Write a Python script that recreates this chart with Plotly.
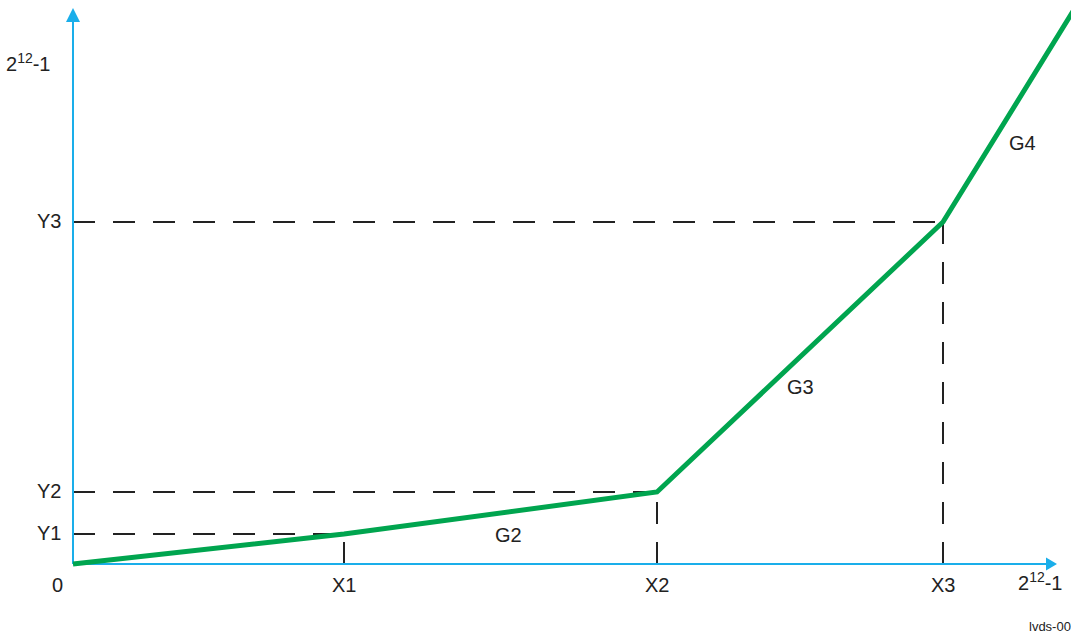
import plotly.graph_objects as go

# Data (origin-relative units, 1 unit ~ 1 px)
seg_x = [0, 271, 584, 870, 1007]
seg_y = [0, 30, 72, 342, 564]
x_ticks = ["X1", "X2", "X3"]
x_vals = [271, 584, 870]
y_ticks = ["Y1", "Y2", "Y3"]
y_vals = [30, 72, 342]
gain_labels = ["G2", "G3", "G4"]
gain_pos_x = [435, 727, 949]
gain_pos_y = [29, 177, 421]
full_scale = "2<sup>12</sup>-1"

BLUE = "#1aaeea"
GREEN = "#00a54f"
DARK = "#222222"
FONT = "Liberation Sans, Arial, sans-serif"

fig = go.Figure()

# dashed guide lines
for xv, yv in zip(x_vals, y_vals):
    fig.add_trace(go.Scatter(x=[0, xv], y=[yv, yv], mode="lines",
                             line=dict(color=DARK, width=2, dash="22px,18px"),
                             hoverinfo="skip", showlegend=False))
    fig.add_trace(go.Scatter(x=[xv, xv], y=[0, yv], mode="lines",
                             line=dict(color=DARK, width=2, dash="22px,18px"),
                             hoverinfo="skip", showlegend=False))

# axes
x_end = 984
y_end = 556
fig.add_trace(go.Scatter(x=[0, x_end - 6], y=[0, 0], mode="lines",
                         line=dict(color=BLUE, width=2), hoverinfo="skip", showlegend=False))
fig.add_trace(go.Scatter(x=[0, 0], y=[0, y_end - 8], mode="lines",
                         line=dict(color=BLUE, width=2), hoverinfo="skip", showlegend=False))
# arrow heads
fig.add_trace(go.Scatter(x=[x_end - 11, x_end, x_end - 11, x_end - 11], y=[6.5, 0, -6.5, 6.5],
                         mode="lines", fill="toself", fillcolor=BLUE,
                         line=dict(color=BLUE, width=0), hoverinfo="skip", showlegend=False))
fig.add_trace(go.Scatter(x=[-7, 0, 7, -7], y=[y_end - 14, y_end, y_end - 14, y_end - 14],
                         mode="lines", fill="toself", fillcolor=BLUE,
                         line=dict(color=BLUE, width=0), hoverinfo="skip", showlegend=False))

# transfer curve
fig.add_trace(go.Scatter(x=seg_x, y=seg_y, mode="lines",
                         line=dict(color=GREEN, width=5), hoverinfo="skip", showlegend=False))

ann = []
tf = dict(family=FONT, size=20, color=DARK)
for lbl, yv in zip(y_ticks, y_vals):
    ann.append(dict(x=-24, y=yv + 1, text=lbl, showarrow=False, font=tf))
for lbl, xv in zip(x_ticks, x_vals):
    ann.append(dict(x=xv, y=-21, text=lbl, showarrow=False, font=tf))
ann.append(dict(x=-16, y=-21, text="0", showarrow=False, font=tf))
ann.append(dict(x=-45, y=502, text=full_scale, showarrow=False, font=tf))
ann.append(dict(x=967, y=-17, text=full_scale, showarrow=False, font=tf))
for lbl, gx, gy in zip(gain_labels, gain_pos_x, gain_pos_y):
    ann.append(dict(x=gx, y=gy, text=lbl, showarrow=False, font=tf))
ann.append(dict(x=954, y=-62, text="lvds-006", showarrow=False, xanchor="left",
                font=dict(family=FONT, size=13, color=DARK)))
for a in ann:
    a.update(xref="x", yref="y")

fig.update_layout(
    width=1071, height=634,
    margin=dict(l=0, r=0, t=0, b=0),
    paper_bgcolor="white", plot_bgcolor="white",
    xaxis=dict(range=[-73, 998], visible=False, fixedrange=True),
    yaxis=dict(range=[-70, 564], visible=False, fixedrange=True),
    annotations=ann,
    showlegend=False,
)
fig.update_traces(cliponaxis=False, selector=dict(fill="toself"))
fig.write_html(
    "out.html",
    config={"displayModeBar": False},
    post_script="document.body.style.margin='0';document.body.style.overflow='hidden';",
)
